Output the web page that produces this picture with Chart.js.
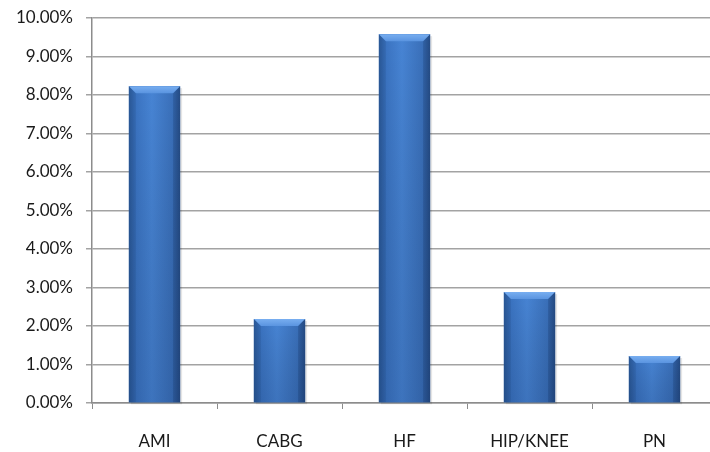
<!DOCTYPE html>
<html lang="en">
<head>
    <meta charset="UTF-8">
    <title>Rates chart</title>
    <script src="https://cdn.jsdelivr.net/npm/chart.js"></script>
    <style>
        html, body { margin: 0; padding: 0; background: #fff; overflow: hidden; }
        #wrap { width: 720px; height: 452px; }
    </style>
</head>
<body>
    <div id="wrap"><canvas id="myChart" width="720" height="452"></canvas></div>

    <script>
        // chart data
        var categories = ['AMI', 'CABG', 'HF', 'HIP/KNEE', 'PN'];
        var rates = [8.23, 2.18, 9.58, 2.88, 1.22];
        var tickValues = [0, 1, 2, 3, 4, 5, 6, 7, 8, 9, 10];

        // draws the shaded, bevelled look over each bar
        var bevelBars = {
            id: 'bevelBars',
            afterDatasetsDraw: function(chart) {
                var ctx = chart.ctx;
                var meta = chart.getDatasetMeta(0);
                meta.data.forEach(function(bar) {
                    var w = bar.width;
                    var l = bar.x - w / 2, r = bar.x + w / 2;
                    var t = bar.y, b = bar.base;
                    var bev = Math.min(7, (b - t) / 3);

                    ctx.save();
                    // soft shadow
                    ctx.fillStyle = 'rgba(0,0,0,0.10)';
                    ctx.fillRect(l + 2, t + 2, w, b - t);

                    var g = ctx.createLinearGradient(l, 0, r, 0);
                    g.addColorStop(0, '#2c5c9c');
                    g.addColorStop(0.15, '#3b74c2');
                    g.addColorStop(0.45, '#4784d4');
                    g.addColorStop(0.85, '#3a70ba');
                    g.addColorStop(1, '#2a5490');
                    ctx.fillStyle = g;
                    ctx.fillRect(l, t, w, b - t);

                    // vertical darkening toward the base
                    var gv = ctx.createLinearGradient(0, t, 0, b);
                    gv.addColorStop(0, 'rgba(0,0,0,0)');
                    gv.addColorStop(1, 'rgba(10,30,70,0.16)');
                    ctx.fillStyle = gv;
                    ctx.fillRect(l, t, w, b - t);

                    // top bevel
                    ctx.beginPath();
                    ctx.moveTo(l, t);
                    ctx.lineTo(r, t);
                    ctx.lineTo(r - bev, t + bev);
                    ctx.lineTo(l + bev, t + bev);
                    ctx.closePath();
                    var gt = ctx.createLinearGradient(0, t, 0, t + bev);
                    gt.addColorStop(0, '#78aef0');
                    gt.addColorStop(1, '#5a94e0');
                    ctx.fillStyle = gt;
                    ctx.fill();

                    // side bevels, faint
                    ctx.beginPath();
                    ctx.moveTo(l, t);
                    ctx.lineTo(l + bev, t + bev);
                    ctx.lineTo(l + bev, b);
                    ctx.lineTo(l, b);
                    ctx.closePath();
                    ctx.fillStyle = 'rgba(20,50,100,0.10)';
                    ctx.fill();

                    ctx.beginPath();
                    ctx.moveTo(r, t);
                    ctx.lineTo(r - bev, t + bev);
                    ctx.lineTo(r - bev, b);
                    ctx.lineTo(r, b);
                    ctx.closePath();
                    ctx.fillStyle = 'rgba(10,30,70,0.15)';
                    ctx.fill();
                    ctx.restore();
                });
            }
        };

        var ctx = document.querySelector('#myChart');
        var myChart = new Chart(ctx, {
            type: 'bar',
            data: {
                labels: categories,
                datasets: [{
                    data: rates,
                    backgroundColor: '#3f7ac8',
                    borderWidth: 0,
                    categoryPercentage: 1,
                    barPercentage: 0.41
                }]
            },
            plugins: [bevelBars],
            options: {
                responsive: false,
                animation: false,
                layout: { padding: { top: 0, right: 3, left: 0, bottom: 0 } },
                plugins: {
                    legend: { display: false },
                    tooltip: { enabled: false }
                },
                scales: {
                    x: {
                        grid: {
                            offset: true,
                            drawOnChartArea: false,
                            drawTicks: true,
                            tickLength: 6,
                            color: '#8c8c8c'
                        },
                        border: { color: '#8c8c8c', width: 1.5 },
                        ticks: {
                            color: '#1a1a1a',
                            padding: 22,
                            font: { family: 'Lato', size: 17 }
                        },
                        afterFit: function(scale) { scale.height = 49; }
                    },
                    y: {
                        min: 0,
                        max: 10,
                        afterBuildTicks: function(scale) {
                            scale.ticks = tickValues.map(function(v) { return { value: v }; });
                        },
                        grid: {
                            color: '#a3a3a3',
                            lineWidth: 1.5,
                            tickLength: 6
                        },
                        border: { color: '#8c8c8c', width: 1.5 },
                        ticks: {
                            color: '#1a1a1a',
                            padding: 13,
                            font: { family: 'Lato', size: 17 },
                            callback: function(v) { return v.toFixed(2) + '%'; }
                        },
                        afterFit: function(scale) {
                            scale.width = 92;
                            scale.paddingTop = 18;
                            scale.paddingBottom = 0;
                        }
                    }
                }
            }
        });
    </script>
</body>
</html>
